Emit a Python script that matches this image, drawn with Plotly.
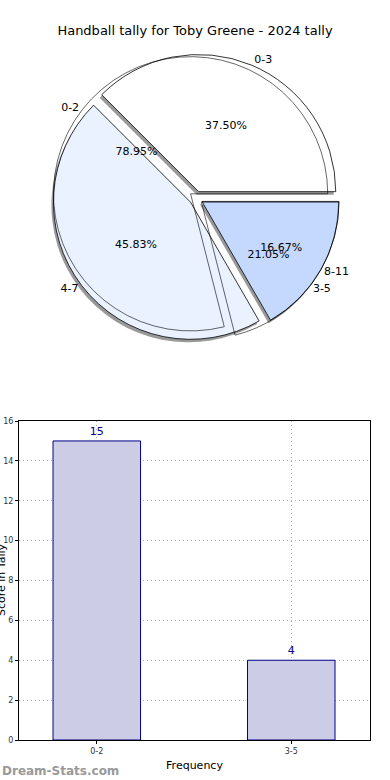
import plotly.graph_objects as go

title = "Handball tally for Toby Greene - 2024 tally"
pie1_labels = ["0-3", "4-7", "8-11"]
pie1_values = [9, 11, 4]
pie2_labels = ["0-2", "3-5"]
pie2_values = [15, 4]
bar_categories = ["0-2", "3-5"]
bar_values = [15, 4]
y_ticks = [0, 2, 4, 6, 8, 10, 12, 14, 16]

FONT = "DejaVu Sans"
pie_colors = ["#ffffff", "#eaf1ff", "#c5d9ff"]
W, H = 390, 780

def px(x):
    return x / W

def py(y):
    return 1 - y / H

def start_east(values):
    # plotly counterclockwise pies end the first slice at the rotation angle;
    # shift so that the first slice starts at 3 o'clock like matplotlib
    return 90 - 360 * values[0] / sum(values)

pie_dom = dict(x=[px(48), px(344)], y=[py(342), py(54)])
shadow_dom = dict(x=[px(46), px(342)], y=[py(345), py(57)])
pull1 = [0.05, 0.05, 0.05]
pull2 = [0.05, 0.05]
rot1 = start_east(pie1_values)
rot2 = start_east(pie2_values)

fig = go.Figure()

# shadow
fig.add_trace(go.Pie(values=pie1_values, labels=pie1_labels, sort=False,
                     direction="counterclockwise", rotation=rot1, pull=pull1,
                     domain=shadow_dom, marker=dict(colors=["#999999"] * 3, line=dict(width=0)),
                     textinfo="none", hoverinfo="skip", showlegend=False))
# pie 1 filled
fig.add_trace(go.Pie(values=pie1_values, labels=pie1_labels, sort=False,
                     direction="counterclockwise", rotation=rot1, pull=pull1,
                     domain=pie_dom,
                     marker=dict(colors=pie_colors, line=dict(color="black", width=0.8)),
                     texttemplate="%{percent:.2%}", textposition="inside",
                     insidetextorientation="horizontal",
                     textfont=dict(family=FONT, size=11, color="black"),
                     showlegend=False))
# pie 2 outline overlay
fig.add_trace(go.Pie(values=pie2_values, labels=pie2_labels, sort=False,
                     direction="counterclockwise", rotation=rot2, pull=pull2,
                     domain=pie_dom,
                     marker=dict(colors=["rgba(0,0,0,0)"] * 2, line=dict(color="black", width=0.6)),
                     texttemplate="%{percent:.2%}", textposition="inside",
                     insidetextorientation="horizontal",
                     textfont=dict(family=FONT, size=11, color="black"),
                     showlegend=False))
# outside labels
for labs, vals, pl, rot in [(pie1_labels, pie1_values, pull1, rot1),
                            (pie2_labels, pie2_values, pull2, rot2)]:
    fig.add_trace(go.Pie(values=vals, labels=labs, sort=False,
                         direction="counterclockwise", rotation=rot, pull=pl,
                         domain=pie_dom,
                         marker=dict(colors=["rgba(0,0,0,0)"] * len(vals), line=dict(width=0)),
                         textinfo="label", textposition="outside",
                         textfont=dict(family=FONT, size=11, color="black"),
                         showlegend=False, hoverinfo="skip"))

# bars
fig.add_trace(go.Bar(x=bar_categories, y=bar_values, width=0.45,
                     marker=dict(color="#cccce6", line=dict(color="#00008b", width=1)),
                     text=[str(v) for v in bar_values], textposition="outside",
                     textfont=dict(family=FONT, size=11, color="#00008b"),
                     cliponaxis=False, showlegend=False, xaxis="x", yaxis="y"))

grid = dict(showgrid=True, gridcolor="#b0b0b0", griddash="1px,3px", gridwidth=1)

fig.update_layout(
    width=W, height=H,
    margin=dict(l=0, r=0, t=0, b=0, autoexpand=False),
    paper_bgcolor="white", plot_bgcolor="white",
    font=dict(family=FONT, color="black"),
    title=dict(text=title, x=0.5, xanchor="center", xref="paper", yref="container",
               y=py(30), yanchor="middle", automargin=False,
               font=dict(family=FONT, size=13, color="black")),
    xaxis=dict(domain=[px(19), px(370)], range=[-0.4, 1.405], type="category",
               automargin=False,
               showline=True, linecolor="black", linewidth=1, mirror=True, **grid,
               ticks="outside", ticklen=3, tickcolor="black",
               tickfont=dict(family=FONT, size=8, color="#333333"),
               title=dict(text="Frequency", font=dict(family=FONT, size=11), standoff=6),
               zeroline=False),
    yaxis=dict(domain=[py(740), py(421)], range=[0, 16], tickvals=y_ticks,
               automargin=False,
               showline=True, linecolor="black", linewidth=1, mirror=True, **grid,
               ticks="outside", ticklen=3, tickcolor="black",
               tickfont=dict(family=FONT, size=8, color="#333333"),
               zeroline=False),
    annotations=[
        dict(text="Score in Tally", xref="paper", yref="paper", x=px(1), y=py(580),
             xanchor="center", yanchor="middle", textangle=-90, showarrow=False,
             font=dict(family=FONT, size=11, color="black")),
        dict(text="<b>Dream-Stats.com</b>", xref="paper", yref="paper", x=0, y=py(771),
             xanchor="left", yanchor="middle", showarrow=False,
             font=dict(family=FONT, size=12, color="#999999")),
    ],
)

fig.write_html("out.html", config={"displayModeBar": False},
               post_script="document.body.style.margin='0px';")
